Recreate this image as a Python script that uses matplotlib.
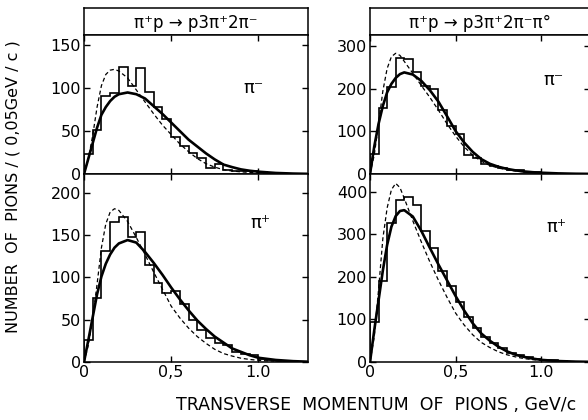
import numpy as np
import matplotlib
matplotlib.use("Agg")
import matplotlib.pyplot as plt

plt.rcParams['font.family'] = ['DejaVu Sans']

BIN = 0.05  # GeV/c per histogram bin

# transverse momentum grid for the model curves (GeV/c)
pt = [0, 0.025, 0.05, 0.075, 0.1, 0.125, 0.15, 0.175, 0.2, 0.25, 0.3, 0.35,
      0.4, 0.45, 0.5, 0.55, 0.6, 0.65, 0.7, 0.75, 0.8, 0.85, 0.9, 0.95,
      1.0, 1.1, 1.2, 1.28]

# pi+ p -> p 3pi+ 2pi-, pi- spectrum
r1_minus_hist = [23, 51, 91, 94, 125, 103, 124, 96, 78, 64, 43, 33, 24, 19,
                 7, 12, 5, 4, 3, 3, 2, 1, 1]
r1_minus_solid = [0, 18, 36, 54, 69, 78, 85, 90, 93, 95, 93, 88, 79, 70, 60,
                  50, 40, 32, 24, 17, 11, 8, 5.4, 3.8, 2.7, 1.2, 0.5, 0.2]
r1_minus_dash = [0, 18, 45, 78, 103, 116, 121, 122, 120, 112, 98, 84, 70, 57,
                 46, 35, 26, 18, 12, 8, 5, 3.5, 2.5, 1.8, 1.3, 0.7, 0.3, 0.1]

# pi+ p -> p 3pi+ 2pi-, pi+ spectrum
r1_plus_hist = [26, 76, 131, 165, 171, 148, 154, 115, 93, 82, 84, 68, 50, 38,
                28, 22, 20, 12, 9, 8, 4, 2, 1]
r1_plus_solid = [0, 26, 53, 80, 101, 116, 127, 135, 140, 144, 141, 130, 117,
                 103, 88, 74, 61, 49, 39, 30, 23, 16, 12, 8, 5, 2.4, 1, 0.4]
r1_plus_dash = [0, 20, 52, 92, 135, 163, 177, 181, 179, 166, 147, 127, 106,
                86, 66, 52, 40, 30, 22, 15, 10, 7, 4.5, 3, 2, 0.8, 0.3, 0.1]

# pi+ p -> p 3pi+ 2pi- pi0, pi- spectrum
r2_minus_hist = [48, 155, 205, 274, 271, 239, 208, 200, 151, 112, 95, 45, 37,
                 24, 19, 14, 10, 9, 5, 4, 2, 1, 1]
r2_minus_solid = [0, 65, 118, 160, 192, 212, 226, 235, 239, 234, 219, 197,
                  170, 136, 101, 74, 52, 35, 24, 17, 12, 8.5, 6, 4.2, 3, 1.4,
                  0.6, 0.3]
r2_minus_dash = [0, 45, 118, 195, 248, 276, 284, 279, 265, 237, 208, 180, 150,
                 118, 89, 64, 44, 30, 20, 14, 10, 7, 5, 3.5, 2.5, 1.2, 0.5,
                 0.2]

# pi+ p -> p 3pi+ 2pi- pi0, pi+ spectrum
r2_plus_hist = [93, 191, 327, 382, 388, 368, 309, 269, 215, 179, 140, 105, 81,
                58, 45, 34, 22, 17, 11, 6, 5, 4, 2, 1]
r2_plus_solid = [0, 75, 145, 215, 275, 318, 343, 355, 357, 342, 308, 268, 229,
                 192, 155, 121, 91, 67, 50, 36, 25, 17, 12, 8, 5, 2.2, 0.9,
                 0.4]
r2_plus_dash = [0, 60, 170, 290, 362, 405, 420, 410, 385, 332, 282, 235, 192,
                152, 115, 87, 64, 46, 34, 24, 17, 12, 8, 5.5, 4, 2, 0.8, 0.3]

titles = ["π⁺p → p3π⁺2π⁻", "π⁺p → p3π⁺2π⁻π°"]
charge_labels = ["π⁻", "π⁺"]
xticks = [0, 0.5, 1.0]
xtick_labels = ["0", "0,5", "1.0"]
yticks = {
    (0, 0): [0, 50, 100, 150],
    (1, 0): [0, 50, 100, 150, 200],
    (0, 1): [0, 100, 200, 300],
    (1, 1): [0, 100, 200, 300, 400],
}
ylims = {(0, 0): 162, (1, 0): 222, (0, 1): 327, (1, 1): 442}
label_pos = {(0, 0): (0.97, 100), (1, 0): (1.01, 164),
             (0, 1): (1.07, 221), (1, 1): (1.09, 318)}

panels = {
    (0, 0): (r1_minus_hist, r1_minus_solid, r1_minus_dash),
    (1, 0): (r1_plus_hist, r1_plus_solid, r1_plus_dash),
    (0, 1): (r2_minus_hist, r2_minus_solid, r2_minus_dash),
    (1, 1): (r2_plus_hist, r2_plus_solid, r2_plus_dash),
}

W, H = 588, 420
fig = plt.figure(figsize=(W / 100, H / 100), dpi=100)

col_left = [84, 370]
col_width = [224, 220]
title_top, title_bot = 8, 35
upper_bot, lower_bot = 174, 362

LW_FRAME = 1.1
for c in range(2):
    l = col_left[c] / W
    w = col_width[c] / W
    # reaction caption box above the column
    tax = fig.add_axes([l, 1 - title_bot / H, w, (title_bot - title_top) / H])
    tax.set_xticks([])
    tax.set_yticks([])
    for s in tax.spines.values():
        s.set_linewidth(LW_FRAME)
    tax.text(0.5, 0.45, titles[c], ha='center', va='center', fontsize=12,
             transform=tax.transAxes)

    for r in range(2):
        if r == 0:
            b, h = 1 - upper_bot / H, (upper_bot - title_bot) / H
        else:
            b, h = 1 - lower_bot / H, (lower_bot - upper_bot) / H
        ax = fig.add_axes([l, b, w, h])
        hist, solid, dash = panels[(r, c)]
        edges = np.arange(len(hist) + 1) * BIN
        ax.stairs(hist, edges, color='black', lw=1.2, baseline=0)
        ax.plot(pt, solid, color='black', lw=1.9, solid_capstyle='round')
        ax.plot(pt, dash, color='black', lw=0.9, dashes=(3.2, 2.2))
        ax.set_xlim(0, 1.285)
        ax.set_ylim(0, ylims[(r, c)])
        ax.set_yticks(yticks[(r, c)])
        ax.set_xticks(xticks)
        if r == 1:
            ax.set_xticklabels(xtick_labels)
        else:
            ax.set_xticklabels([])
        ax.tick_params(direction='in', top=True, right=True, length=4.5,
                       width=1.0, labelsize=11.5, pad=2)
        for s in ax.spines.values():
            s.set_linewidth(LW_FRAME)
        lx, ly = label_pos[(r, c)]
        ax.text(lx, ly, charge_labels[r], fontsize=13, ha='center',
                va='center')

fig.text(0.022, 0.555, "NUMBER  OF  PIONS / ( 0,05GeV / c )", rotation=90,
         ha='center', va='center', fontsize=11.5)
fig.text(0.64, 0.036, "TRANSVERSE  MOMENTUM  OF  PIONS , GeV/c",
         ha='center', va='center', fontsize=12.5)

fig.savefig("out.png", dpi=100)
